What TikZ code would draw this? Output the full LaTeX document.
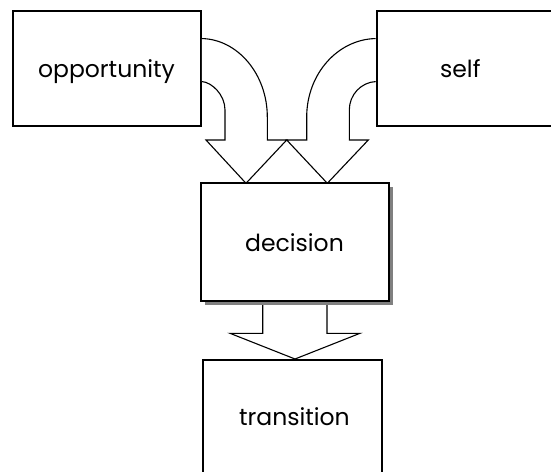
\documentclass[tikz,border=0pt]{standalone}
\usepackage{fontspec}
\setmainfont{Poppins}
\usetikzlibrary{calc}
\tikzset{
  boxnode/.style={draw=black, line width=1.8pt, fill=white, rectangle, inner sep=0pt},
  labeltext/.style={anchor=base, inner sep=0pt, font=\fontsize{23.5}{28}\selectfont},
  blockarrow/.style={draw=black, line width=1.1pt, fill=white, line join=miter},
  shadowbox/.style={fill=black!50, draw=none}
}
\begin{document}
\begin{tikzpicture}[x=1pt, y=-1pt]
\clip (0,0) rectangle (551,471);
\fill[white] (0,0) rectangle (551,471);

% boxes
\node[boxnode, minimum width=187.7pt, minimum height=114.7pt] (opp) at (107.15,68.5) {};
\node[boxnode, minimum width=200pt, minimum height=114.7pt, anchor=west] (self) at (375.7,68.5) {};

% side block arrows
\draw[blockarrow]
  ($(opp.north east)+(0,28.3)$) .. controls (237.6,39.3) and (267.3,74.1) .. (267.3,117)
  -- (267.3,140) -- (286.7,140) -- (246,183.3) -- (206,140) -- (225,140) -- (225,110)
  .. controls (225,94.7) and (211.8,82.3) .. ($(opp.north east)+(0,71.3)$);
\draw[blockarrow]
  ($(self.north west)+(0,28.3)$) .. controls (337.6,39.3) and (306.7,74.1) .. (306.7,117)
  -- (306.7,140) -- (286.7,140) -- (327.3,183.3) -- (368.3,140) -- (349.3,140) -- (349.3,110)
  .. controls (349.3,94.7) and (361.1,82.3) .. ($(self.north west)+(0,71.3)$);

% bottom block arrow
\coordinate (sl) at (262.7,300.7);
\coordinate (sr) at (327,300.7);
\draw[blockarrow, fill=white]
  (sl) -- (262.7,333.3) -- (230,333.3) -- (295,359) -- (360,333.3) -- (327,333.3) -- (sr);

% decision with shadow
\fill[shadowbox] (205,187.3) rectangle (393.3,304.9);
\node[boxnode, minimum width=188pt, minimum height=117.4pt] (dec) at (295,242) {};

% transition
\node[boxnode, minimum width=178.4pt, minimum height=140pt, anchor=north west] (trans) at (202.3,359) {};

% texts
\node[labeltext] (opptxt) at (106.5,77.3) {opportunity};
\node[labeltext] (selftxt) at (460.3,77.3) {self};
\node[labeltext] (dectxt) at (294.5,251.7) {decision};
\node[labeltext] (transtxt) at (294.4,425) {transition};
\end{tikzpicture}
\end{document}
